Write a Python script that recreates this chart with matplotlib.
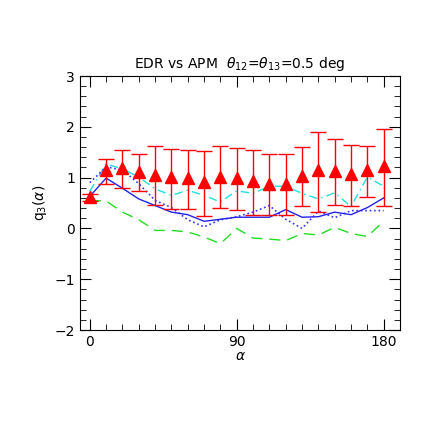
import matplotlib
matplotlib.use("Agg")
import matplotlib.pyplot as plt
from matplotlib.ticker import MultipleLocator

alpha = [0,10,20,30,40,50,60,70,80,90,100,110,120,130,140,150,160,170,180]
q_tri = [0.61,1.14,1.19,1.12,1.06,1.02,0.99,0.91,1.02,1.0,0.93,0.88,0.88,1.04,1.14,1.13,1.08,1.14,1.23]
err_hi = [0.68,1.37,1.55,1.46,1.63,1.57,1.55,1.52,1.62,1.59,1.55,1.46,1.46,1.61,1.90,1.76,1.65,1.63,1.96]
err_lo = [0.54,0.88,0.79,0.74,0.47,0.38,0.39,0.24,0.41,0.37,0.26,0.27,0.27,0.45,0.33,0.46,0.44,0.61,0.45]
q_solid = [0.63,0.99,0.79,0.58,0.45,0.32,0.27,0.14,0.18,0.22,0.22,0.22,0.37,0.22,0.23,0.32,0.27,0.41,0.60]
q_dot = [0.90,1.21,1.15,0.88,0.55,0.41,0.17,0.03,0.17,0.23,0.32,0.45,0.18,0.0,0.34,0.21,0.35,0.35,0.35]
q_cyan = [0.73,1.27,1.17,1.01,0.78,0.65,0.75,0.65,0.52,0.74,0.69,0.83,0.83,0.69,0.58,0.70,0.43,1.01,0.83]
q_green = [0.55,0.54,0.32,0.17,-0.04,-0.04,-0.07,-0.17,-0.30,0.0,-0.19,-0.21,-0.24,-0.10,-0.13,0.02,-0.10,-0.16,0.14]

fig = plt.figure(figsize=(4.36,4.36), dpi=100)
ax = fig.add_axes([80/436, 1-330/436, 320/436, 254/436])
ax.plot(alpha, q_green, color='#22dd22', ls=(0,(8,5)), lw=1)
ax.plot(alpha, q_cyan, color='#22dddd', ls=(0,(6,3,1,3)), lw=1)
ax.plot(alpha, q_dot, color='#3333ff', ls=':', lw=1.2)
ax.plot(alpha, q_solid, color='#2222ee', lw=1)
lo = [q - l for q, l in zip(q_tri, err_lo)]
hi = [h - q for q, h in zip(q_tri, err_hi)]
ax.errorbar(alpha, q_tri, yerr=[lo, hi], fmt='^', color='red', ms=9, capsize=6, elinewidth=1, capthick=1)
ax.set_xlim(-6, 190)
ax.set_ylim(-2, 3)
ax.set_xticks([0,90,180])
ax.xaxis.set_minor_locator(MultipleLocator(10))
ax.yaxis.set_major_locator(MultipleLocator(1))
ax.yaxis.set_minor_locator(MultipleLocator(0.2))
ax.tick_params(which='both', direction='in', top=True, right=True)
ax.tick_params(which='major', length=8)
ax.tick_params(which='minor', length=4)
ax.set_xlabel(r'$\alpha$', labelpad=0)
ax.set_ylabel(r'q$_3$($\alpha$)')
ax.set_title(r'EDR vs APM  $\theta_{12}$=$\theta_{13}$=0.5 deg', fontsize=10)
fig.savefig('out.png', dpi=100)
